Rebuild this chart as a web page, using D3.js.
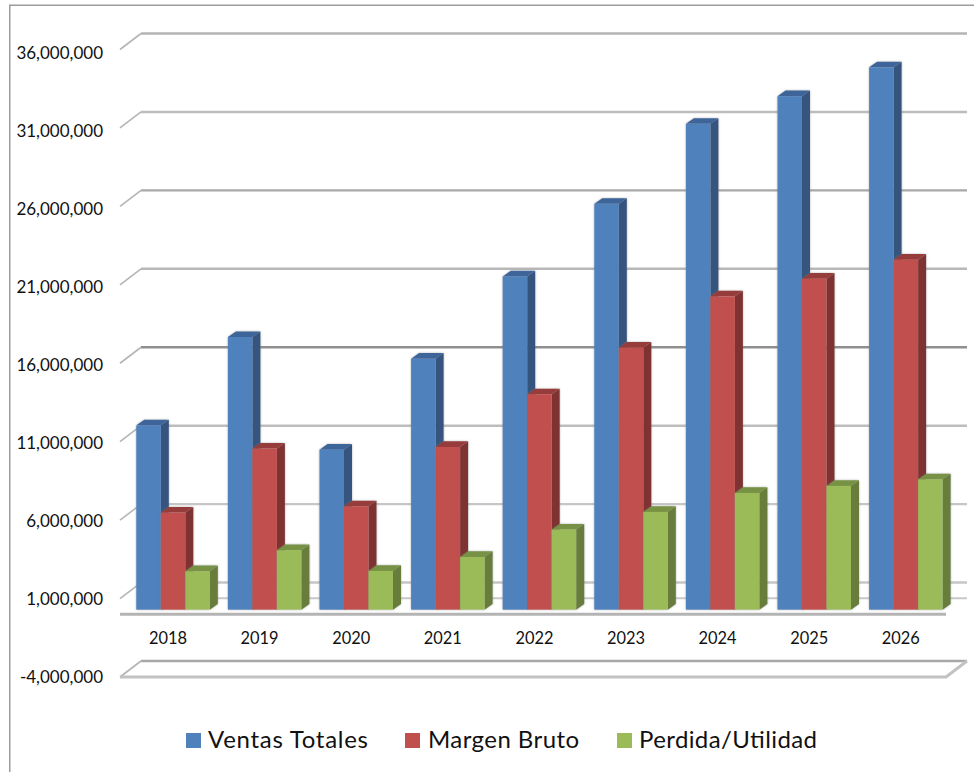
<!DOCTYPE html>
<html>
<head>
<meta charset="utf-8">
<script src="https://cdn.jsdelivr.net/npm/d3@7/dist/d3.min.js"></script>
<style>
html,body{margin:0;padding:0;background:#fff;}
svg{display:block;}
text{font-family:Lato,"Open Sans",sans-serif;fill:#111;}
</style>
</head>
<body>
<svg id="chart" width="974" height="772"></svg>
<script>
const years = ["2018","2019","2020","2021","2022","2023","2024","2025","2026"];
const ventasTotales = [11750000,17380000,10200000,16000000,21240000,25870000,30970000,32730000,34570000];
const margenBruto   = [6190000,10270000,6590000,10370000,13730000,16700000,19970000,21100000,22310000];
const perdidaUtilidad = [2450000,3790000,2470000,3360000,5110000,6230000,7440000,7890000,8310000];
const tickValues = [-4000000,1000000,6000000,11000000,16000000,21000000,26000000,31000000,36000000];
const seriesNames = ["Ventas Totales","Margen Bruto","Perdida/Utilidad"];
const seriesValues = [ventasTotales, margenBruto, perdidaUtilidad];
const frontColors = ["#4f81bd","#c0504d","#9bbb59"];
const sideColors  = ["#34547f","#7f3230","#677c3b"];
const topColors   = ["#3d659a","#963c3a","#789244"];
const gridColors  = ["#a8a8a8","#c6c6c6","#c6c6c6","#bdbdbd","#8f8f8f","#b8b8b8","#a8a8a8","#bdbdbd","#b4b4b4"];

const svg = d3.select("#chart");
const defs = svg.append("defs");
defs.append("filter").attr("id","soft").attr("x","-5%").attr("y","-5%").attr("width","110%").attr("height","110%")
  .append("feGaussianBlur").attr("stdDeviation",0.7);
const glow = defs.append("filter").attr("id","glow").attr("x","-10%").attr("y","-5%").attr("width","120%").attr("height","110%");
glow.append("feDropShadow").attr("dx",0).attr("dy",0).attr("stdDeviation",1).attr("flood-color","#777").attr("flood-opacity",0.55);

// Geometry of the pseudo 3D plot
const frontLeft = 120, frontRight = 946, depthX = 21, depthY = 16;
const y = d3.scaleLinear().domain([-4000000,36000000]).range([677,49.5]);   // front plane
const yLabel = d3.scaleLinear().domain([-4000000,36000000]).range([677.3,52.9]);
const x = d3.scaleBand().domain(years).range([frontLeft, frontLeft + 9*91.6]);
const barW = 24.5, barStart = 16.3, barDx = 8, barDy = 5.6, barShift = 4.6;
const yBar = v => y(v) - barShift;

// frame
svg.append("path").attr("d","M9.75,772V5.25H974").attr("fill","none").attr("stroke","#9c9c9c").attr("stroke-width",1.5);

const plot = svg.append("g").attr("filter","url(#soft)");

// back wall gridlines with the left-side diagonals
const grid = plot.append("g");
tickValues.forEach((t,i) => {
  grid.append("line").attr("x1",frontLeft+depthX).attr("x2",frontRight+depthX)
    .attr("y1",y(t)-depthY).attr("y2",y(t)-depthY)
    .attr("stroke",gridColors[i]).attr("stroke-width",2.4);
  grid.append("line").attr("x1",frontLeft).attr("x2",frontLeft+depthX)
    .attr("y1",y(t)).attr("y2",y(t)-depthY)
    .attr("stroke","#b5b5b5").attr("stroke-width",1.6);
});
// back edge of the zero plane
grid.append("line").attr("x1",frontLeft+depthX).attr("x2",frontRight+depthX)
  .attr("y1",y(0)-depthY).attr("y2",y(0)-depthY).attr("stroke","#c8c8c8").attr("stroke-width",2.2);
// front edge of the zero plane (category axis)
grid.append("line").attr("x1",frontLeft).attr("x2",frontRight)
  .attr("y1",y(0)).attr("y2",y(0)).attr("stroke","#b4b4b4").attr("stroke-width",3);
// floor at the axis minimum
const yMin = y(tickValues[0]);
grid.append("path").attr("fill","none").attr("stroke","#c2c2c2").attr("stroke-width",3)
  .attr("d",`M${frontLeft},${yMin}H${frontRight}L${frontRight+depthX},${yMin-depthY}`);

// bars
const bars = plot.append("g");
years.forEach((yr,i) => {
  seriesValues.forEach((vals,s) => {
    const v = vals[i];
    const x0 = x(yr) + barStart + s*barW, x1 = x0 + barW;
    const yt = yBar(v), yb = yBar(0);
    const g = bars.append("g").attr("filter","url(#glow)");
    g.append("path").attr("fill",sideColors[s])
      .attr("d",`M${x1},${yt}L${x1+barDx},${yt-barDy}V${yb-barDy}L${x1},${yb}Z`);
    g.append("path").attr("fill",topColors[s])
      .attr("d",`M${x0},${yt}L${x0+barDx},${yt-barDy}H${x1+barDx}L${x1},${yt}Z`);
    g.append("rect").attr("x",x0).attr("y",yt).attr("width",barW).attr("height",yb-yt).attr("fill",frontColors[s]);
  });
});

// value axis labels
const commaFormat = d3.format(",");
const yAxis = d3.axisLeft(yLabel).tickValues(tickValues).tickSize(0).tickPadding(0)
  .tickFormat(d => commaFormat(d).replace("\u2212","-"));
svg.append("g").attr("transform","translate(103,0)").call(yAxis)
  .call(g => g.select(".domain").remove())
  .selectAll("text").attr("font-size",17).style("font-family","Lato,'Open Sans',sans-serif");

// category axis labels
const xAxis = d3.axisBottom(x).tickSize(0).tickPadding(0);
svg.append("g").attr("transform","translate(2.2,632.4)").call(xAxis)
  .call(g => g.select(".domain").remove())
  .selectAll("text").attr("font-size",16.4).style("font-family","Lato,'Open Sans',sans-serif");

// legend
const legendSquares = [186,405,617];
const legendTextX = [208,428,639];
const legendTextW = [160,151,178];
const legend = svg.append("g");
seriesNames.forEach((n,i) => {
  legend.append("rect").attr("x",legendSquares[i]).attr("y",733).attr("width",15).attr("height",15).attr("fill",frontColors[i]);
  legend.append("text").attr("x",legendTextX[i]).attr("y",748).attr("font-size",24)
    .attr("textLength",legendTextW[i]).attr("lengthAdjust","spacing").text(n);
});
</script>
</body>
</html>
